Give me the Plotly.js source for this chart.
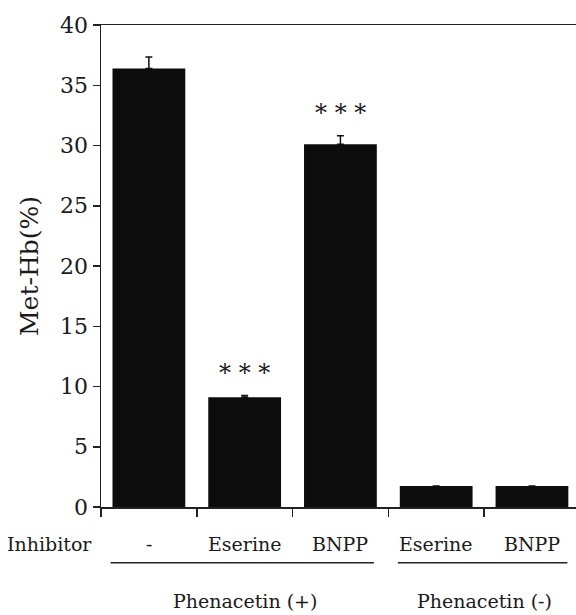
<!DOCTYPE html>
<html>
<head>
<meta charset="utf-8">
<script src="https://cdn.plot.ly/plotly-3.0.1.min.js"></script>
<style>html,body{margin:0;padding:0;background:#fff;}#chart{width:576px;height:615px;}</style>
</head>
<body>
<div id="chart"></div>
<script>
// Data
const inhibitors = ["-", "Eserine", "BNPP", "Eserine", "BNPP"];
const metHb = [36.4, 9.1, 30.1, 1.75, 1.75];
const errUp = [0.95, 0.15, 0.7, 0, 0];
const significance = ["", "* * *", "* * *", "", ""];
const groupLabels = ["Phenacetin (+)", "Phenacetin (-)"];
const groupCenters = [1, 3.5];
const groupSpans = [[-0.4, 2.35], [2.6, 4.37]];
const yTicks = [0, 5, 10, 15, 20, 25, 30, 35, 40];

const xIdx = inhibitors.map((_, i) => i);
const FONT = "DejaVu Serif";
const INK = "#1a1a1a";

const trace = {
  type: "bar",
  x: xIdx,
  y: metHb,
  width: 0.76,
  marker: {color: "#0c0c0c", line: {width: 0}},
  error_y: {type: "data", symmetric: false, array: errUp, arrayminus: errUp.map(() => 0),
            color: "#111", thickness: 1.5, width: 3.5},
  hoverinfo: "none"
};

const annotations = [];
inhibitors.forEach((lab, i) => {
  annotations.push({x: i, y: 0, xref: "x", yref: "paper", text: lab, showarrow: false,
    yanchor: "middle", yshift: -37, font: {family: FONT, size: 19, color: INK}});
});
significance.forEach((s, i) => {
  if (!s) return;
  annotations.push({x: i, y: metHb[i] + errUp[i], xref: "x", yref: "y", text: s, showarrow: false,
    yanchor: "bottom", yshift: 7, font: {family: FONT, size: 24, color: INK}});
});
groupLabels.forEach((g, k) => {
  annotations.push({x: groupCenters[k], y: 0, xref: "x", yref: "paper", text: g, showarrow: false,
    yanchor: "middle", yshift: -94, font: {family: FONT, size: 19, color: INK}});
});
annotations.push({x: 0, y: 0, xref: "paper", yref: "paper", text: "Inhibitor", showarrow: false,
  xanchor: "right", xshift: -7, yanchor: "middle", yshift: -37, font: {family: FONT, size: 19, color: INK}});

const shapes = groupSpans.map(s => ({type: "line", xref: "x", yref: "paper",
  x0: s[0], x1: s[1], y0: -0.1155, y1: -0.1155, line: {color: "#222", width: 1.5}}));

const layout = {
  width: 576, height: 615,
  margin: {l: 101, r: 0, t: 25, b: 108},
  paper_bgcolor: "#fff", plot_bgcolor: "#fff",
  showlegend: false,
  xaxis: {range: [-0.5, 4.46], tickmode: "array", tickvals: [-0.5, 0.5, 1.5, 2.5, 3.5],
    showticklabels: false, ticks: "outside", ticklen: 8, tickwidth: 1.5, tickcolor: "#222",
    showline: true, linecolor: "#222", linewidth: 1.5, mirror: true, showgrid: false, zeroline: false, fixedrange: true},
  yaxis: {range: [0, 40], tickmode: "array", tickvals: yTicks, ticks: "outside", ticklen: 7, tickwidth: 1.5,
    tickcolor: "#222", showline: true, linecolor: "#222", linewidth: 1.5, showgrid: false, zeroline: false,
    tickfont: {family: FONT, size: 22, color: INK},
    title: {text: "Met-Hb(%)", font: {family: FONT, size: 25, color: INK}, standoff: 14}, fixedrange: true},
  annotations: annotations,
  shapes: shapes,
  font: {family: FONT, color: INK}
};

Plotly.newPlot("chart", [trace], layout, {displayModeBar: false, staticPlot: true});
</script>
</body>
</html>
